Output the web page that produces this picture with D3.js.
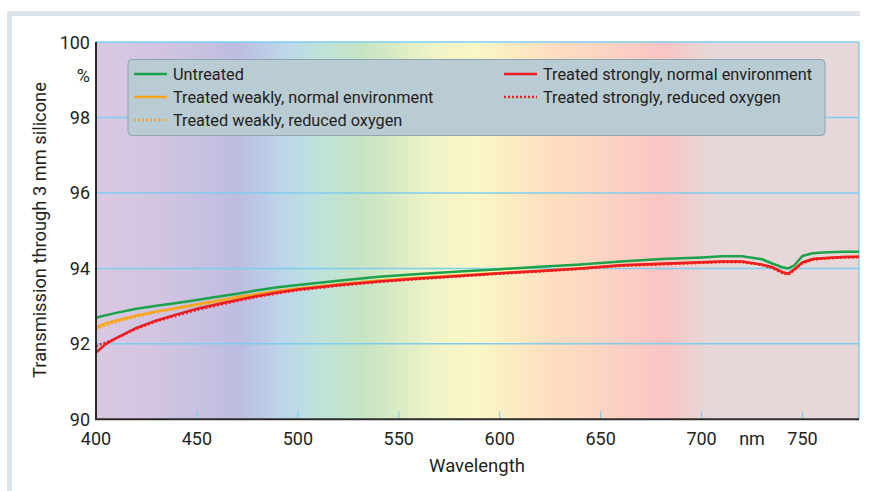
<!DOCTYPE html>
<html>
<head>
<meta charset="utf-8">
<script src="https://cdn.jsdelivr.net/npm/d3@7"></script>
<style>
body { margin: 0; background: #fff; }
text { font-family: Roboto, "Open Sans", sans-serif; fill: #231f20; }
</style>
</head>
<body>
<script>
// wavelengths (nm) and transmission (%)
var wavelengths = [400, 405, 410, 420, 430, 440, 450, 460, 470, 480, 490, 500, 520, 540, 560, 580, 600, 620, 640, 660, 680, 700, 710, 720, 730, 735, 740, 743, 746, 750, 755, 760, 770, 778];

var untreated    = [92.69, 92.76, 92.82, 92.93, 93.01, 93.08, 93.16, 93.25, 93.33, 93.42, 93.50, 93.56, 93.67, 93.78, 93.85, 93.92, 93.98, 94.04, 94.10, 94.18, 94.25, 94.29, 94.32, 94.32, 94.24, 94.13, 94.03, 94.00, 94.08, 94.33, 94.40, 94.42, 94.44, 94.44];
var weakNormal   = [92.44, 92.55, 92.62, 92.75, 92.86, 92.95, 93.05, 93.14, 93.24, 93.32, 93.41, 93.47, 93.58, 93.68, 93.75, 93.82, 93.88, 93.94, 94.00, 94.08, 94.12, 94.16, 94.18, 94.18, 94.10, 94.03, 93.90, 93.86, 93.98, 94.16, 94.25, 94.27, 94.30, 94.31];
var weakReduced  = [92.38, 92.50, 92.58, 92.72, 92.84, 92.93, 93.03, 93.12, 93.22, 93.30, 93.39, 93.45, 93.56, 93.66, 93.73, 93.80, 93.86, 93.93, 93.99, 94.06, 94.11, 94.15, 94.17, 94.17, 94.09, 94.01, 93.88, 93.84, 93.96, 94.14, 94.23, 94.26, 94.29, 94.30];
var strongNormal = [91.77, 92.00, 92.15, 92.42, 92.62, 92.78, 92.93, 93.05, 93.16, 93.27, 93.36, 93.44, 93.56, 93.65, 93.73, 93.80, 93.87, 93.93, 94.00, 94.08, 94.12, 94.16, 94.18, 94.18, 94.10, 94.03, 93.90, 93.86, 93.98, 94.16, 94.25, 94.27, 94.30, 94.31];
var strongReduced= [91.94, 92.04, 92.15, 92.40, 92.60, 92.75, 92.90, 93.02, 93.14, 93.25, 93.34, 93.42, 93.54, 93.64, 93.72, 93.79, 93.86, 93.92, 93.99, 94.07, 94.11, 94.15, 94.17, 94.17, 94.09, 94.01, 93.88, 93.84, 93.96, 94.14, 94.23, 94.26, 94.29, 94.30];

var seriesNames = ["Untreated", "Treated weakly, normal environment", "Treated weakly, reduced oxygen",
                   "Treated strongly, normal environment", "Treated strongly, reduced oxygen"];
var xTicks = [400, 450, 500, 550, 600, 650, 700, 750];
var yTicks = [90, 92, 94, 96, 98, 100];

// spectrum behind the plot
var spectrumNm     = [400, 430, 471, 493, 510, 532, 570, 590, 623, 656, 681, 705, 778];
var spectrumColors = ["#d9c8e2", "#d2c5e1", "#bdbde0", "#bcd6ea", "#bfe2dc", "#c6e4c4", "#f2f4c8", "#faf6c6", "#fde0c0", "#fcd2c4", "#fac4c4", "#e6d8d8", "#e6d8d8"];

var series = [
  {name: seriesNames[0], values: untreated,     color: "#1ca24b", dash: null},
  {name: seriesNames[1], values: weakNormal,    color: "#f9a51b", dash: null},
  {name: seriesNames[2], values: weakReduced,   color: "#f9a51b", dash: "2,2"},
  {name: seriesNames[3], values: strongNormal,  color: "#ed1c24", dash: null},
  {name: seriesNames[4], values: strongReduced, color: "#ed1c24", dash: "2,2"}
];

var W = 870, H = 491;
var pL = 96, pR = 859, pT = 42, pB = 419.3;

var svg = d3.select("body").append("svg")
  .attr("width", W)
  .attr("height", H);

// frame bands
svg.append("rect").attr("x", 7).attr("y", 11).attr("width", 853).attr("height", 5).attr("fill", "#dde3e9");
svg.append("rect").attr("x", 7).attr("y", 11).attr("width", 5).attr("height", H - 11).attr("fill", "#dde3e9");

var x = d3.scaleLinear().domain([400, 778]).range([pL, pR]);
var y = d3.scaleLinear().domain([90, 100]).range([pB, pT]);

var grad = svg.append("defs").append("linearGradient")
  .attr("id", "spectrum")
  .attr("gradientUnits", "userSpaceOnUse")
  .attr("x1", x(400)).attr("x2", x(778)).attr("y1", 0).attr("y2", 0);
grad.selectAll("stop")
  .data(spectrumNm)
  .enter().append("stop")
  .attr("offset", function(d) { return (d - 400) / 378; })
  .attr("stop-color", function(d, i) { return spectrumColors[i]; });

svg.append("rect")
  .attr("x", pL).attr("y", pT)
  .attr("width", pR - pL).attr("height", pB - pT)
  .attr("fill", "url(#spectrum)");

// grid lines
svg.selectAll(".grid")
  .data(yTicks.slice(1))
  .enter().append("line")
  .attr("x1", pL).attr("x2", pR)
  .attr("y1", function(d) { return y(d); })
  .attr("y2", function(d) { return y(d); })
  .attr("stroke", "#7fcdee")
  .attr("stroke-width", 1.5);

svg.append("line")
  .attr("x1", pR).attr("x2", pR).attr("y1", pT).attr("y2", pB)
  .attr("stroke", "#7fcdee").attr("stroke-width", 1.5);

// small ticks on the bottom
svg.selectAll(".xt")
  .data(xTicks.slice(1))
  .enter().append("line")
  .attr("x1", function(d) { return x(d); })
  .attr("x2", function(d) { return x(d); })
  .attr("y1", pB).attr("y2", pB - 8)
  .attr("stroke", "#7fcdee").attr("stroke-width", 1.2);

// curves
var line = d3.line()
  .x(function(d, i) { return x(wavelengths[i]); })
  .y(function(d) { return y(d); });

svg.selectAll(".series")
  .data(series)
  .enter().append("path")
  .attr("d", function(s) { return line(s.values); })
  .attr("fill", "none")
  .attr("stroke", function(s) { return s.color; })
  .attr("stroke-width", 2.5)
  .attr("stroke-dasharray", function(s) { return s.dash; });

// axes
svg.append("path")
  .attr("d", "M" + pL + "," + pT + "V" + pB + "H" + pR)
  .attr("fill", "none").attr("stroke", "#2b2b2b").attr("stroke-width", 2);

var fs = 18;
svg.selectAll(".yl")
  .data(yTicks)
  .enter().append("text")
  .attr("x", 90)
  .attr("y", function(d) { return y(d) + 6.5; })
  .attr("text-anchor", "end")
  .style("font-size", fs + "px")
  .text(function(d) { return d; });

svg.append("text").attr("x", 90).attr("y", 82).attr("text-anchor", "end")
  .style("font-size", fs + "px").text("%");

svg.selectAll(".xl")
  .data(xTicks)
  .enter().append("text")
  .attr("x", function(d) { return x(d); })
  .attr("y", 444.5)
  .attr("text-anchor", "middle")
  .style("font-size", fs + "px")
  .text(function(d) { return d; });

svg.append("text").attr("x", 752).attr("y", 444.5).attr("text-anchor", "middle")
  .style("font-size", fs + "px").text("nm");

svg.append("text").attr("x", 477).attr("y", 472).attr("text-anchor", "middle")
  .style("font-size", "18.5px").text("Wavelength");

svg.append("text")
  .attr("transform", "translate(46,230) rotate(-90)")
  .attr("text-anchor", "middle")
  .style("font-size", "18.3px")
  .text("Transmission through 3 mm silicone");

// legend
svg.append("rect")
  .attr("x", 128).attr("y", 59.5)
  .attr("width", 697).attr("height", 76)
  .attr("rx", 4)
  .attr("fill", "#b9cbd3")
  .attr("stroke", "#8ea4ae").attr("stroke-width", 1);

var legendPos = [[134, 74], [134, 97], [134, 120], [504, 74], [504, 97]];
var lg = svg.selectAll(".lg")
  .data(series)
  .enter().append("g")
  .attr("transform", function(d, i) { return "translate(" + legendPos[i][0] + "," + legendPos[i][1] + ")"; });
lg.append("line")
  .attr("x1", 0).attr("x2", 33).attr("y1", 0).attr("y2", 0)
  .attr("stroke", function(s) { return s.color; })
  .attr("stroke-width", 2.5)
  .attr("stroke-dasharray", function(s) { return s.dash; });
lg.append("text")
  .attr("x", 39).attr("y", 5.5)
  .style("font-size", "16.3px")
  .text(function(s) { return s.name; });
</script>
</body>
</html>
